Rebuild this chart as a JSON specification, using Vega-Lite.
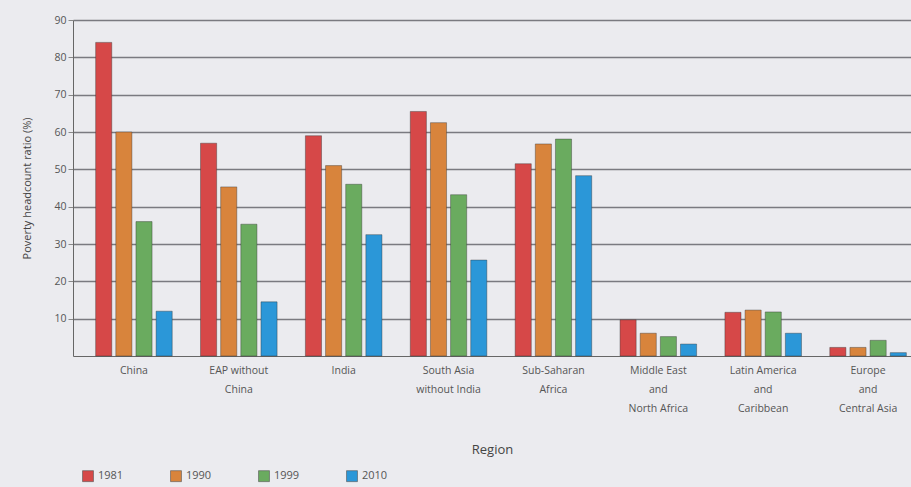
{
  "$schema": "https://vega.github.io/schema/vega-lite/v6.json",
  "width": 838,
  "height": 336,
  "autosize": "none",
  "padding": {"left": 73, "top": 20, "right": 0, "bottom": 131},
  "background": "#ebebef",
  "config": {
    "view": {"stroke": null},
    "font": "Open Sans",
    "axis": {"labelColor": "#555", "titleColor": "#444", "labelFont": "Open Sans", "titleFont": "Open Sans"},
    "legend": {"labelColor": "#555", "labelFont": "Open Sans"}
  },
  "data": {
    "values": [
      {"region": "China", "year": "1981", "value": 84},
      {"region": "China", "year": "1990", "value": 60},
      {"region": "China", "year": "1999", "value": 36},
      {"region": "China", "year": "2010", "value": 12},
      {"region": "EAP without China", "year": "1981", "value": 57},
      {"region": "EAP without China", "year": "1990", "value": 45.3},
      {"region": "EAP without China", "year": "1999", "value": 35.3},
      {"region": "EAP without China", "year": "2010", "value": 14.5},
      {"region": "India", "year": "1981", "value": 59},
      {"region": "India", "year": "1990", "value": 51},
      {"region": "India", "year": "1999", "value": 46},
      {"region": "India", "year": "2010", "value": 32.5},
      {"region": "South Asia without India", "year": "1981", "value": 65.5},
      {"region": "South Asia without India", "year": "1990", "value": 62.5},
      {"region": "South Asia without India", "year": "1999", "value": 43.2},
      {"region": "South Asia without India", "year": "2010", "value": 25.7},
      {"region": "Sub-Saharan Africa", "year": "1981", "value": 51.5},
      {"region": "Sub-Saharan Africa", "year": "1990", "value": 56.8},
      {"region": "Sub-Saharan Africa", "year": "1999", "value": 58.1},
      {"region": "Sub-Saharan Africa", "year": "2010", "value": 48.3},
      {"region": "Middle East and North Africa", "year": "1981", "value": 9.7},
      {"region": "Middle East and North Africa", "year": "1990", "value": 6.1},
      {"region": "Middle East and North Africa", "year": "1999", "value": 5.2},
      {"region": "Middle East and North Africa", "year": "2010", "value": 3.2},
      {"region": "Latin America and Caribbean", "year": "1981", "value": 11.7},
      {"region": "Latin America and Caribbean", "year": "1990", "value": 12.3},
      {"region": "Latin America and Caribbean", "year": "1999", "value": 11.8},
      {"region": "Latin America and Caribbean", "year": "2010", "value": 6.1},
      {"region": "Europe and Central Asia", "year": "1981", "value": 2.3},
      {"region": "Europe and Central Asia", "year": "1990", "value": 2.3},
      {"region": "Europe and Central Asia", "year": "1999", "value": 4.2},
      {"region": "Europe and Central Asia", "year": "2010", "value": 0.9}
    ]
  },
  "mark": {"type": "bar", "stroke": "#333", "strokeWidth": 0.8, "strokeOpacity": 0.5},
  "encoding": {
    "x": {
      "field": "region",
      "type": "nominal",
      "sort": null,
      "scale": {"range": [0, 856], "paddingInner": 0.27, "paddingOuter": 0.216},
      "axis": {
        "title": "Region",
        "titleFontSize": 13,
        "titleFontWeight": "normal",
        "titlePadding": 30,
        "titleX": 419,
        "titleAnchor": "middle",
        "labelAngle": 0,
        "labelFontSize": 10.5,
        "labelLineHeight": 19,
        "labelPadding": 9,
        "ticks": false,
        "domainColor": "#666",
        "labelExpr": "datum.value == 'EAP without China' ? ['EAP without', 'China'] : datum.value == 'South Asia without India' ? ['South Asia', 'without India'] : datum.value == 'Sub-Saharan Africa' ? ['Sub-Saharan', 'Africa'] : datum.value == 'Middle East and North Africa' ? ['Middle East', 'and', 'North Africa'] : datum.value == 'Latin America and Caribbean' ? ['Latin America', 'and', 'Caribbean'] : datum.value == 'Europe and Central Asia' ? ['Europe', 'and', 'Central Asia'] : datum.value"
      }
    },
    "xOffset": {"field": "year", "type": "nominal", "scale": {"paddingInner": 0.2}},
    "y": {
      "field": "value",
      "type": "quantitative",
      "scale": {"domain": [0, 90]},
      "axis": {
        "title": "Poverty headcount ratio (%)",
        "titleFontSize": 11,
        "titleFontWeight": "normal",
        "titlePadding": 21,
        "values": [10, 20, 30, 40, 50, 60, 70, 80, 90],
        "labelFontSize": 10.5,
        "tickSize": 5,
        "tickColor": "#888",
        "domainColor": "#666",
        "gridColor": "#66666c",
        "gridWidth": 1.4,
        "gridOpacity": 0.85
      }
    },
    "color": {
      "field": "year",
      "type": "nominal",
      "scale": {"domain": ["1981", "1990", "1999", "2010"], "range": ["#d64848", "#d8843c", "#6aab5f", "#2b97d8"]},
      "legend": {
        "title": null,
        "orient": "none",
        "direction": "horizontal",
        "legendX": 9,
        "legendY": 450,
        "symbolType": "square",
        "symbolSize": 120,
        "symbolStrokeColor": "#555",
        "symbolStrokeWidth": 0.6,
        "labelFontSize": 11,
        "columnPadding": 45
      }
    }
  }
}
